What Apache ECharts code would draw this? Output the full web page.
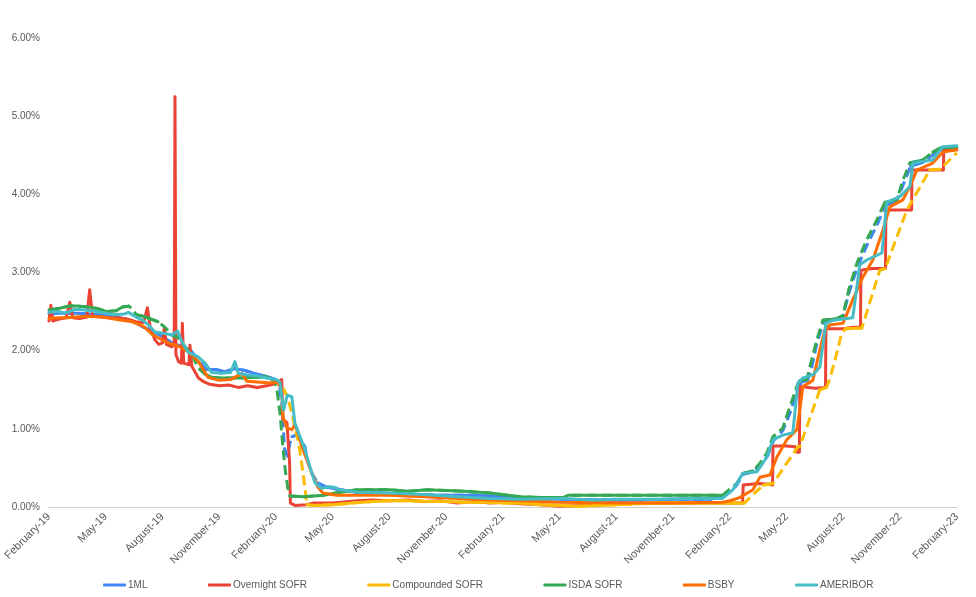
<!DOCTYPE html>
<html>
<head>
<meta charset="utf-8">
<script src="https://cdn.jsdelivr.net/npm/echarts@6/dist/echarts.min.js"></script>
<style>
    html, body { margin: 0; padding: 0; background: #fff; }
    #chart { width: 976px; height: 597px; }
</style>
</head>
<body>
<div id="chart"></div>
<script>
// x 值 = 自 2019 年 2 月起的月数
const quarterLabels = ['February-19', 'May-19', 'August-19', 'November-19',
    'February-20', 'May-20', 'August-20', 'November-20',
    'February-21', 'May-21', 'August-21', 'November-21',
    'February-22', 'May-22', 'August-22', 'November-22', 'February-23'];

const seriesNames = ['1ML', 'Overnight SOFR', 'Compounded SOFR', 'ISDA SOFR', 'BSBY', 'AMERIBOR'];
const seriesColors = ['#4285F4', '#EA4335', '#FBBC04', '#34A853', '#FF6D01', '#46BDC6'];
// 陡峭段显示为虚线的系列（原图中周末缺值造成的断续效果）
const dashedSeries = ['1ML', 'Compounded SOFR', 'ISDA SOFR'];

const oneML = [
    [0, 2.47], [0.5, 2.48], [1.0, 2.48], [1.5, 2.48], [2.0, 2.47], [2.5, 2.46], [3.0, 2.45], [3.5, 2.43],
    [4.0, 2.41], [4.5, 2.37], [5.0, 2.30], [5.5, 2.25], [6.0, 2.18], [6.5, 2.10], [7.0, 2.05], [7.5, 2.00],
    [8.0, 1.85], [8.3, 1.76], [8.8, 1.76], [9.3, 1.73], [9.8, 1.77], [10.3, 1.75], [11.0, 1.70], [11.5, 1.67],
    [12.0, 1.63], [12.2, 1.52], [12.32, 1.28], [12.45, 0.75], [12.6, 0.65], [12.74, 0.82], [12.84, 0.90],
    [13.1, 0.92], [13.3, 0.86], [13.53, 0.77], [13.7, 0.56], [13.9, 0.43], [14.2, 0.31], [14.6, 0.26],
    [15.4, 0.22], [16.3, 0.19], [17.5, 0.18], [19.0, 0.16], [20.7, 0.15], [22.5, 0.15], [24.0, 0.13],
    [25.5, 0.11], [27.0, 0.10], [29.0, 0.09], [31.0, 0.09], [33.0, 0.10], [35.0, 0.10], [35.4, 0.14],
    [35.6, 0.12], [35.94, 0.18], [36.36, 0.28], [36.68, 0.42], [37.2, 0.45], [37.6, 0.52], [38.0, 0.66],
    [38.3, 0.85], [38.8, 0.98], [39.2, 1.22], [39.55, 1.50], [39.8, 1.60], [40.1, 1.62], [40.3, 1.76],
    [40.6, 2.10], [40.95, 2.36], [41.6, 2.40], [41.97, 2.44], [42.3, 2.75], [42.75, 3.08], [43.3, 3.38],
    [43.8, 3.62], [44.2, 3.86], [44.8, 3.91], [45.2, 4.15], [45.55, 4.36], [46.2, 4.41], [46.75, 4.51],
    [47.1, 4.56], [47.99, 4.59]
];

const overnightSofr = [
    [0, 2.38], [0.1, 2.58], [0.2, 2.38], [0.5, 2.40], [0.9, 2.42], [1.1, 2.62], [1.25, 2.42], [1.6, 2.41],
    [2.0, 2.43], [2.15, 2.78], [2.3, 2.44], [2.8, 2.43], [3.2, 2.42], [3.7, 2.42], [4.2, 2.40], [4.6, 2.37],
    [5.0, 2.36], [5.2, 2.55], [5.35, 2.30], [5.6, 2.14], [5.8, 2.08], [6.0, 2.10], [6.1, 2.30], [6.2, 2.08],
    [6.5, 2.05], [6.62, 2.10], [6.66, 5.25], [6.71, 1.95], [6.85, 1.86], [7.0, 1.84], [7.05, 2.35],
    [7.12, 1.84], [7.4, 1.82], [7.45, 2.07], [7.55, 1.80], [7.9, 1.65], [8.2, 1.60], [8.5, 1.57],
    [9.0, 1.55], [9.5, 1.56], [10.0, 1.53], [10.5, 1.55], [11.0, 1.53], [11.5, 1.55], [12.0, 1.58],
    [12.3, 1.63], [12.37, 1.12], [12.58, 1.08], [12.72, 0.56], [12.76, 0.05], [13.0, 0.02], [13.6, 0.03],
    [14.0, 0.05], [15.0, 0.05], [16.3, 0.08], [17.1, 0.09], [18.0, 0.08], [19.0, 0.09], [19.8, 0.07],
    [20.7, 0.08], [21.6, 0.05], [22.5, 0.07], [23.3, 0.05], [24.0, 0.06], [24.9, 0.04], [26.0, 0.03],
    [27.0, 0.01], [28.0, 0.02], [29.0, 0.05], [31.0, 0.05], [33.0, 0.05], [35.0, 0.05], [36.66, 0.05],
    [36.7, 0.28], [37.5, 0.30], [38.1, 0.29], [38.25, 0.28], [38.27, 0.78], [39.0, 0.78], [39.45, 0.77],
    [39.55, 0.70], [39.67, 0.70], [39.69, 1.54], [40.5, 1.52], [41.05, 1.53], [41.07, 2.28], [42.0, 2.28],
    [42.5, 2.30], [42.9, 2.30], [42.92, 3.03], [43.5, 3.05], [44.22, 3.05], [44.24, 3.80], [45.0, 3.80],
    [45.6, 3.80], [45.62, 4.31], [46.5, 4.31], [47.28, 4.31], [47.3, 4.57], [47.99, 4.57]
];

const compoundedSofr = [
    [12.37, 1.52], [12.58, 1.43], [12.84, 1.20], [13.0, 1.02], [13.16, 0.86], [13.3, 0.65], [13.45, 0.40],
    [13.55, 0.20], [13.64, 0.03], [14.0, 0.02], [15.0, 0.03], [16.0, 0.05], [17.1, 0.07], [18.0, 0.08],
    [19.0, 0.08], [20.0, 0.07], [21.0, 0.07], [22.0, 0.06], [23.0, 0.06], [24.0, 0.05], [25.0, 0.05],
    [26.0, 0.03], [27.0, 0.02], [28.0, 0.01], [29.0, 0.02], [30.0, 0.03], [31.0, 0.04], [32.0, 0.05],
    [36.75, 0.05], [37.75, 0.28], [38.27, 0.30], [39.59, 0.77], [39.7, 0.78], [40.75, 1.50], [41.1, 1.53],
    [41.3, 1.66], [41.65, 1.97], [41.9, 2.22], [42.1, 2.28], [42.97, 2.29], [43.92, 3.03], [44.2, 3.05],
    [45.35, 3.80], [46.56, 4.31], [47.1, 4.32], [47.99, 4.53]
];

const isdaSofr = [
    [0, 2.52], [0.5, 2.54], [1.06, 2.57], [1.53, 2.57], [2.06, 2.56], [2.54, 2.54], [3.07, 2.50],
    [3.54, 2.51], [3.9, 2.56], [4.2, 2.57], [4.45, 2.53], [4.6, 2.46], [5.0, 2.44], [5.76, 2.37],
    [6.13, 2.30], [6.5, 2.20], [6.82, 2.17], [7.19, 2.05], [7.56, 1.95], [7.88, 1.78], [8.25, 1.70],
    [8.6, 1.66], [9.0, 1.65], [10.0, 1.65], [11.0, 1.66], [11.5, 1.67], [11.9, 1.62], [12.05, 1.50],
    [12.21, 1.20], [12.37, 0.75], [12.5, 0.45], [12.65, 0.20], [12.74, 0.14], [13.5, 0.13], [14.5, 0.15],
    [15.4, 0.19], [16.3, 0.22], [18.0, 0.22], [19.0, 0.20], [20.0, 0.22], [21.0, 0.21], [22.0, 0.20],
    [23.3, 0.18], [24.9, 0.13], [26.0, 0.12], [27.2, 0.12], [27.45, 0.15], [30.0, 0.15], [35.6, 0.15],
    [35.94, 0.22], [36.36, 0.30], [36.68, 0.43], [37.21, 0.46], [37.58, 0.56], [37.95, 0.69], [38.27, 0.90],
    [38.79, 1.01], [39.16, 1.28], [39.53, 1.54], [39.69, 1.62], [40.06, 1.63], [40.22, 1.79], [40.59, 2.14],
    [40.91, 2.39], [41.65, 2.41], [41.97, 2.45], [42.3, 2.80], [42.71, 3.12], [43.23, 3.42], [43.76, 3.67],
    [44.19, 3.90], [44.82, 3.93], [45.14, 4.18], [45.51, 4.40], [46.19, 4.44], [46.72, 4.54], [47.09, 4.59],
    [47.99, 4.61]
];

const bsby = [
    [0, 2.41], [0.5, 2.42], [1.0, 2.42], [1.4, 2.43], [2.0, 2.44], [2.8, 2.43], [3.6, 2.40], [4.4, 2.37],
    [5.0, 2.31], [5.5, 2.20], [6.2, 2.11], [6.9, 2.05], [7.4, 1.98], [7.9, 1.86], [8.4, 1.66], [9.0, 1.62],
    [9.6, 1.63], [10.2, 1.71], [10.45, 1.61], [11.0, 1.60], [11.5, 1.59], [12.1, 1.59], [12.3, 1.50],
    [12.37, 1.15], [12.58, 1.01], [12.84, 0.99], [13.0, 1.05], [13.16, 0.95], [13.37, 0.77], [13.64, 0.60],
    [13.9, 0.43], [14.2, 0.26], [14.48, 0.18], [15.2, 0.15], [17.1, 0.15], [18.0, 0.15], [19.8, 0.13],
    [21.6, 0.11], [23.3, 0.09], [24.9, 0.08], [27.0, 0.06], [30.0, 0.05], [33.0, 0.05], [35.6, 0.06],
    [36.0, 0.08], [36.5, 0.12], [37.21, 0.22], [37.58, 0.38], [38.11, 0.41], [38.48, 0.64], [39.0, 0.86],
    [39.53, 0.99], [39.69, 1.24], [39.85, 1.54], [40.38, 1.62], [40.75, 2.01], [41.01, 2.26], [41.28, 2.33],
    [41.97, 2.35], [42.49, 2.65], [43.02, 2.94], [43.55, 3.16], [44.08, 3.54], [44.45, 3.84], [45.14, 3.93],
    [45.51, 4.10], [45.88, 4.31], [46.72, 4.40], [47.25, 4.54], [47.99, 4.57]
];

const ameribor = [
    [0, 2.49], [0.5, 2.50], [0.85, 2.48], [1.4, 2.53], [1.9, 2.52], [2.5, 2.50], [3.0, 2.48], [3.4, 2.46],
    [4.0, 2.47], [4.2, 2.49], [4.6, 2.43], [4.95, 2.39], [5.25, 2.33], [5.6, 2.24], [6.13, 2.22],
    [6.5, 2.20], [6.8, 2.25], [7.0, 2.13], [7.35, 1.98], [7.88, 1.92], [8.25, 1.84], [8.6, 1.72],
    [9.1, 1.71], [9.6, 1.72], [9.83, 1.86], [10.0, 1.71], [10.5, 1.69], [11.0, 1.68], [11.5, 1.65],
    [12.0, 1.63], [12.21, 1.60], [12.4, 1.24], [12.6, 1.43], [12.84, 1.41], [13.0, 1.07], [13.27, 0.90],
    [13.53, 0.73], [13.8, 0.51], [14.06, 0.31], [14.4, 0.24], [14.85, 0.26], [15.1, 0.25], [15.4, 0.22],
    [16.3, 0.19], [18.0, 0.18], [19.8, 0.16], [21.6, 0.13], [23.3, 0.11], [24.9, 0.10], [27.2, 0.11],
    [28.75, 0.09], [30.0, 0.10], [32.0, 0.10], [34.0, 0.11], [35.6, 0.11], [36.15, 0.22], [36.68, 0.43],
    [37.42, 0.45], [37.95, 0.64], [38.27, 0.86], [38.79, 0.92], [39.32, 0.95], [39.59, 1.59], [39.85, 1.65],
    [40.38, 1.69], [40.75, 1.79], [41.07, 2.35], [41.44, 2.39], [42.49, 2.42], [42.86, 3.10], [43.23, 3.16],
    [44.03, 3.25], [44.29, 3.90], [44.98, 3.97], [45.51, 4.10], [45.67, 4.40], [46.72, 4.44], [47.25, 4.61],
    [47.99, 4.62]
];

const seriesData = [oneML, overnightSofr, compoundedSofr, isdaSofr, bsby, ameribor];

// 取出平缓段（斜率小于阈值），陡峭段用空值断开
function flatParts(points, maxSlope) {
    let out = [];
    for (let i = 0; i < points.length - 1; i++) {
        let a = points[i], b = points[i + 1];
        let slope = Math.abs(b[1] - a[1]) / (b[0] - a[0]);
        if (slope <= maxSlope) {
            out.push(a, b);
        } else {
            out.push([(a[0] + b[0]) / 2, '-']);
        }
    }
    return out;
}

(function () {
    let myChart = echarts.init(document.getElementById('chart'));
    const font = 'Liberation Sans, Arial, sans-serif';

    let series = [];
    seriesNames.forEach(function (name, i) {
        let dashed = dashedSeries.indexOf(name) > -1;
        series.push({
            name: name,
            type: 'line',
            data: seriesData[i],
            showSymbol: false,
            symbol: 'none',
            lineStyle: dashed
                ? { width: 3, type: [10, 5], cap: 'butt', join: 'round' }
                : { width: 3, join: 'round', cap: 'round' }
        });
        if (dashed) {
            // 平缓段补成实线
            series.push({
                name: name,
                type: 'line',
                data: flatParts(seriesData[i], 0.15),
                showSymbol: false,
                symbol: 'none',
                connectNulls: false,
                lineStyle: { width: 3, join: 'round', cap: 'round' }
            });
        }
    });

    let option = {
        animation: false,
        color: seriesColors,
        grid: {
            left: 49,
            right: 19,
            top: 38,
            bottom: 90
        },
        legend: {
            left: 98,
            top: 575,
            itemGap: 60.5,
            itemWidth: 23,
            itemHeight: 3,
            icon: 'roundRect',
            textStyle: {
                color: '#595959',
                fontSize: 10,
                fontFamily: font,
                padding: [0, 0, 0, -3]
            },
            data: seriesNames
        },
        xAxis: {
            type: 'value',
            min: 0,
            max: 48,
            interval: 3,
            axisLine: {
                show: true,
                lineStyle: { color: '#d0d0d0', width: 1 }
            },
            axisTick: { show: false },
            splitLine: { show: false },
            axisLabel: {
                rotate: 45,
                margin: 8,
                color: '#595959',
                fontSize: 11,
                fontFamily: font,
                formatter: function (v) {
                    return quarterLabels[Math.round(v / 3)] || '';
                }
            }
        },
        yAxis: {
            type: 'value',
            min: 0,
            max: 6,
            interval: 1,
            axisLine: { show: false },
            axisTick: { show: false },
            splitLine: { show: false },
            axisLabel: {
                margin: 9,
                color: '#595959',
                fontSize: 10,
                fontFamily: font,
                formatter: function (v) {
                    return v.toFixed(2) + '%';
                }
            }
        },
        series: series
    };

    myChart.setOption(option);
})();
</script>
</body>
</html>
